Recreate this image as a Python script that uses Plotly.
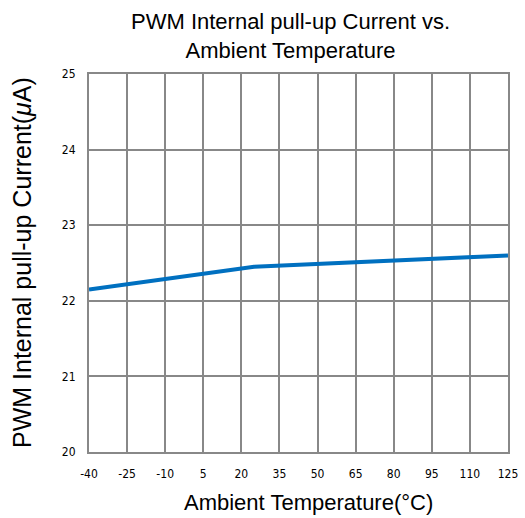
import plotly.graph_objects as go

temps = [-40, 25, 125]
current = [22.15, 22.45, 22.6]
x_ticks = [-40, -25, -10, 5, 20, 35, 50, 65, 80, 95, 110, 125]
y_ticks = [20, 21, 22, 23, 24, 25]

narrow = "DejaVu Sans Condensed, Liberation Sans Narrow, Arial Narrow, sans-serif"
sans = "Liberation Sans, Arial, sans-serif"

fig = go.Figure()
fig.add_trace(go.Scatter(x=temps, y=current, mode="lines",
                         line=dict(color="#0070C0", width=4), showlegend=False))

fig.update_layout(
    width=525, height=518,
    margin=dict(l=89, r=17, t=74, b=66, autoexpand=False),
    paper_bgcolor="white", plot_bgcolor="white",
    annotations=[
        dict(text="PWM Internal pull-up Current vs.<br>Ambient Temperature",
             xref="paper", yref="paper", x=0.5, y=1, yshift=74 - 7, xshift=-8,
             xanchor="center", yanchor="top", showarrow=False,
             font=dict(family=sans, size=22, color="black")),
        dict(text="Ambient Temperature(°C)",
             xref="paper", yref="paper", x=0.5, y=0, yshift=-36, xshift=10,
             xanchor="center", yanchor="top", showarrow=False,
             font=dict(family=sans, size=22, color="black")),
        dict(text="PWM Internal pull-up Current(<i>μ</i>A)",
             xref="paper", yref="paper", x=0, y=0.5, xshift=-67,
             xanchor="center", yanchor="middle", showarrow=False, textangle=-90,
             font=dict(family=sans, size=25, color="black")),
    ],
)
fig.update_xaxes(
    range=[-40, 125], tickvals=x_ticks, ticktext=[str(v) for v in x_ticks],
    showgrid=True, gridcolor="#888888", gridwidth=2,
    showline=True, linecolor="#888888", linewidth=2, mirror=True,
    zeroline=False, ticks="outside", ticklen=10, tickcolor="rgba(0,0,0,0)",
    automargin=False,
    tickfont=dict(family=narrow, size=12, color="black"),
)
fig.update_yaxes(
    range=[20, 25], tickvals=y_ticks, ticktext=[str(v) for v in y_ticks],
    showgrid=True, gridcolor="#888888", gridwidth=2,
    showline=True, linecolor="#888888", linewidth=2, mirror=True,
    zeroline=False, ticks="outside", ticklen=9, tickcolor="rgba(0,0,0,0)",
    automargin=False,
    tickfont=dict(family=narrow, size=12, color="black"),
)

fig.write_html("out.html", config={"displayModeBar": False},
               post_script="document.body.style.margin='0';")
